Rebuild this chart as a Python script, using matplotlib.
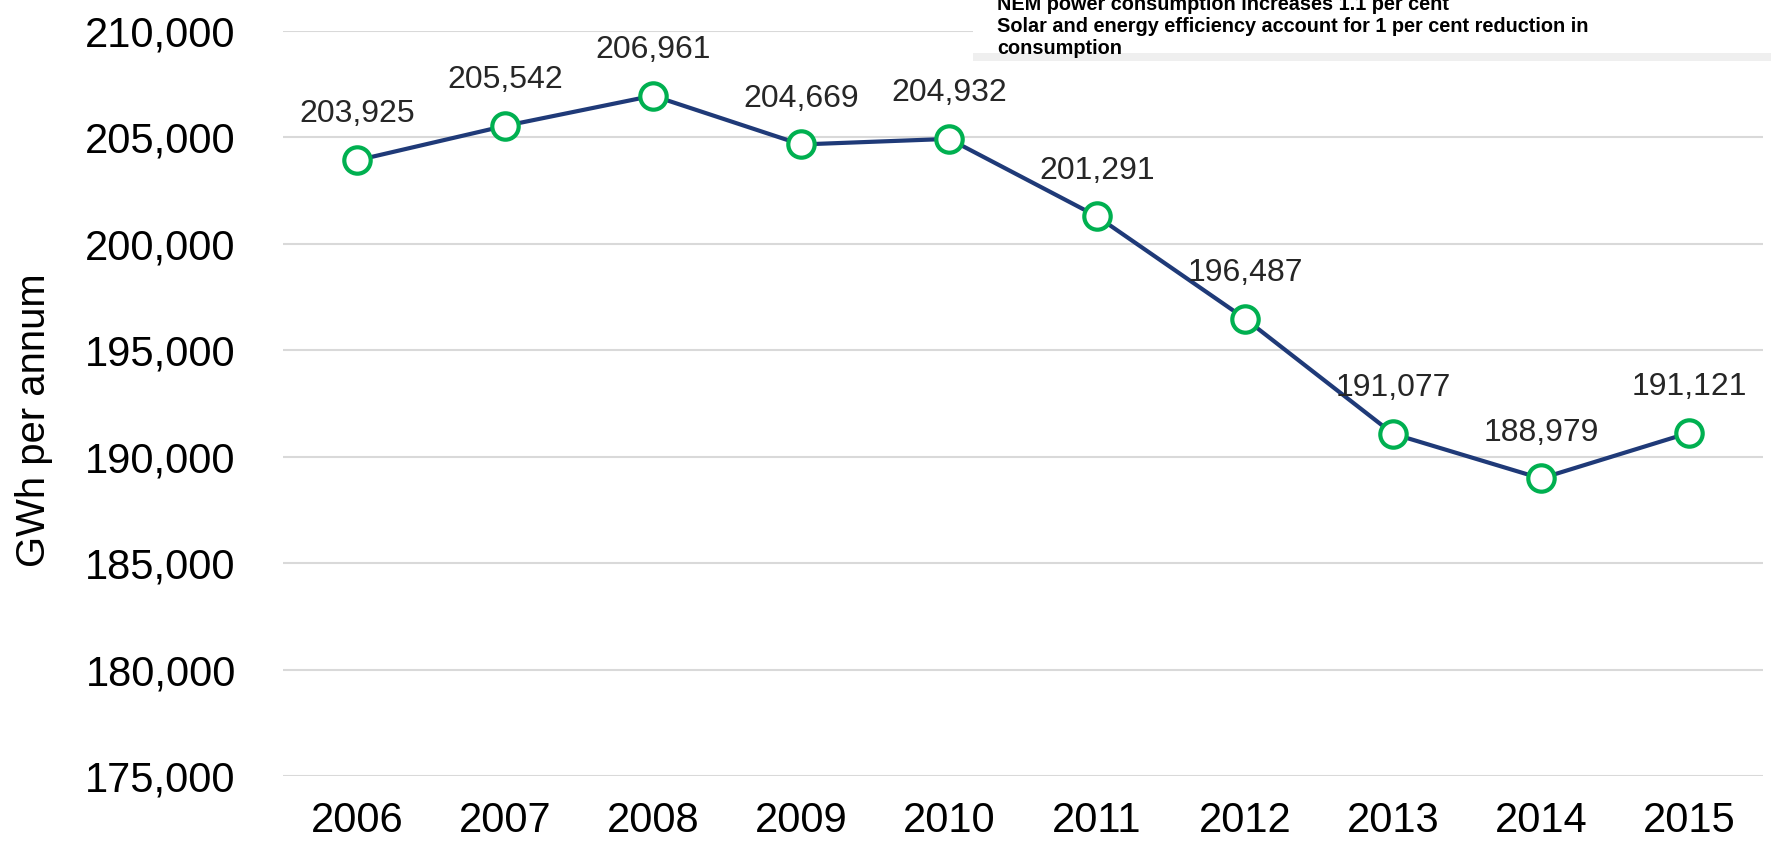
import matplotlib.pyplot as plt
from matplotlib.patches import Rectangle
from matplotlib.ticker import FuncFormatter

plt.rcParams['font.family'] = ['Liberation Sans', 'DejaVu Sans']

years = ['2006', '2007', '2008', '2009', '2010', '2011', '2012', '2013', '2014', '2015']
consumption = [203925, 205542, 206961, 204669, 204932, 201291, 196487, 191077, 188979, 191121]
y_ticks = [175000, 180000, 185000, 190000, 195000, 200000, 205000, 210000]
note_lines = [
    'NEM power consumption increases 1.1 per cent',
    'Solar and energy efficiency account for 1 per cent reduction in',
    'consumption',
]

W, H = 1771, 843
fig = plt.figure(figsize=(W / 100, H / 100), dpi=100)
ax = fig.add_axes([283 / W, 1 - 776 / H, (1763 - 283) / W, (776 - 31) / H])

x = list(range(len(years)))
ax.plot(x, consumption, color='#1F3A78', linewidth=3, zorder=3,
        marker='o', markersize=19, markerfacecolor='white',
        markeredgecolor='#00B050', markeredgewidth=3)

for xi, v in zip(x, consumption):
    ax.annotate(f'{v:,}', (xi, v), xytext=(0, 33), textcoords='offset points',
                ha='center', va='center', fontsize=23, color='#262626')

ax.set_xlim(-0.5, len(years) - 0.5)
ax.set_ylim(175000, 210000)
ax.set_yticks(y_ticks)
ax.yaxis.set_major_formatter(FuncFormatter(lambda v, p: f'{int(v):,}'))
ax.set_xticks(x)
ax.set_xticklabels(years)
ax.tick_params(axis='both', length=0, labelsize=30, colors='black')
ax.tick_params(axis='y', pad=34)
ax.tick_params(axis='x', pad=18)
ax.grid(axis='y', color='#D9D9D9', linewidth=1.5)
ax.set_axisbelow(True)
for s in ax.spines.values():
    s.set_visible(False)

fig.text(34 / W, 1 - 420 / H, 'GWh per annum', rotation=90, ha='center',
         va='center', fontsize=28.8)

# note box at top right (text is cut at the top edge, as in the source)
fig.patches.append(Rectangle((973 / W, 1 - 53 / H), 1 - 973 / W, 53 / H,
                             transform=fig.transFigure, facecolor='white',
                             edgecolor='none', zorder=5))
fig.patches.append(Rectangle((973 / W, 1 - 61 / H), 1 - 973 / W, 8 / H,
                             transform=fig.transFigure, facecolor='#EFEFEF',
                             edgecolor='none', zorder=5))
for i, line in enumerate(note_lines):
    fig.text(997 / W, 1 - (10 + 22 * i) / H, line, ha='left', va='baseline',
             fontsize=14.3, fontweight='bold', color='black', zorder=6)

fig.savefig('out.png', dpi=100)
